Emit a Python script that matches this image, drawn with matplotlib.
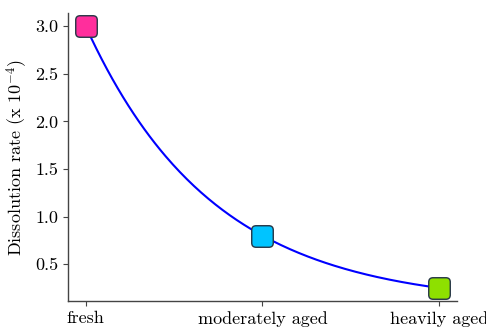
import numpy as np
import matplotlib as mpl
mpl.use('Agg')
import matplotlib.pyplot as plt
from matplotlib.patches import FancyBboxPatch

mpl.rcParams['font.family'] = 'serif'
mpl.rcParams['font.serif'] = ['cmr10']
mpl.rcParams['mathtext.fontset'] = 'cm'
mpl.rcParams['axes.unicode_minus'] = False
mpl.rcParams['axes.formatter.use_mathtext'] = True

stages = ['fresh', 'moderately aged', 'heavily aged']
rates = [3.0, 0.8, 0.25]
colors = ['#ff2e9c', '#00c4ff', '#8ee000']

# a*exp(-b*x) + c through the three points
pos = np.arange(len(stages))
r = (rates[1] - rates[2]) / (rates[0] - rates[1])
a = (rates[0] - rates[1]) / (1 - r)
c = rates[0] - a
xs = np.linspace(pos[0], pos[-1], 200)
ys = a * r ** xs + c

# rounded square marker
box = FancyBboxPatch((-0.5, -0.5), 1, 1, boxstyle='round,pad=0,rounding_size=0.2')
rsquare = box.get_path()

fig = plt.figure(figsize=(4.86, 3.29), dpi=100)
ax = fig.add_axes([0.14, 0.085, 0.80, 0.875])

ax.plot(xs, ys, color='blue', lw=1.5, zorder=2)
for x, y, col in zip(pos, rates, colors):
    ax.plot(x, y, marker=rsquare, ms=15.5, mfc=col, mec='#253545', mew=1.0,
            ls='none', zorder=3)

ax.set_xticks(pos)
ax.set_xticklabels(stages)
ax.set_yticks([0.5, 1.0, 1.5, 2.0, 2.5, 3.0])
ax.set_yticklabels(['0.5', '1.0', '1.5', '2.0', '2.5', '3.0'])
ax.set_ylim(0.1125, 3.1375)
ax.set_xlim(-0.1, 2.1)
ax.set_ylabel('Dissolution rate (x $10^{-4}$)', fontsize=13)
ax.tick_params(labelsize=13, color='#444444', length=3.5, width=0.8)

for side in ['top', 'right']:
    ax.spines[side].set_visible(False)
for side in ['left', 'bottom']:
    ax.spines[side].set_color('#444444')
    ax.spines[side].set_linewidth(1.0)

plt.savefig('out.png', dpi=100)
